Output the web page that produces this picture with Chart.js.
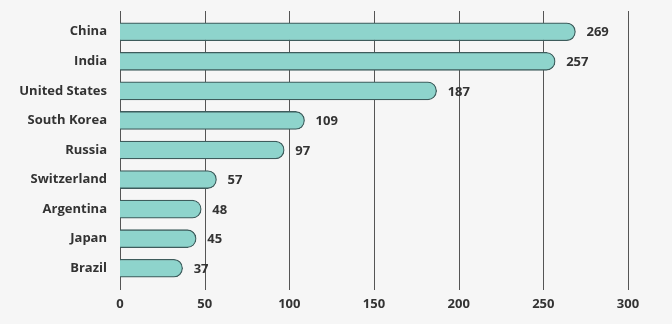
<!DOCTYPE html>
<html>
<head>
<meta charset="utf-8">
<script src="https://cdn.jsdelivr.net/npm/chart.js@4/dist/chart.umd.min.js"></script>
<style>
  html, body { margin: 0; padding: 0; background: #f6f6f6; }
  #wrap { width: 672px; height: 324px; position: relative; }
</style>
</head>
<body>
<div id="wrap"><canvas id="c" width="672" height="324"></canvas></div>
<script>
const categories = ["China", "India", "United States", "South Korea", "Russia", "Switzerland", "Argentina", "Japan", "Brazil"];
const values = [269, 257, 187, 109, 97, 57, 48, 45, 37];
const xTicks = [0, 50, 100, 150, 200, 250, 300];

const FONT = "'Open Sans', 'Noto Sans', sans-serif";
const TEXT = "#333333";

const gridPlugin = {
  id: 'customGrid',
  beforeDatasetsDraw(chart) {
    const { ctx, chartArea, scales } = chart;
    ctx.save();
    ctx.strokeStyle = '#555555';
    ctx.lineWidth = 1;
    xTicks.forEach(v => {
      const x = Math.round(scales.x.getPixelForValue(v)) + 0.5;
      ctx.beginPath();
      ctx.moveTo(x, chartArea.top - 6);
      ctx.lineTo(x, chartArea.bottom + 7);
      ctx.stroke();
    });
    ctx.restore();
  }
};

const labelPlugin = {
  id: 'valueLabels',
  afterDatasetsDraw(chart) {
    const { ctx } = chart;
    const meta = chart.getDatasetMeta(0);
    ctx.save();
    ctx.font = "bold 13px " + FONT;
    ctx.fillStyle = TEXT;
    ctx.textAlign = 'left';
    ctx.textBaseline = 'middle';
    meta.data.forEach((bar, i) => {
      ctx.fillText(String(values[i]), bar.x + 11, bar.y + 1);
    });
    ctx.restore();
  }
};

new Chart(document.getElementById('c'), {
  type: 'bar',
  data: {
    labels: categories,
    datasets: [{
      data: values,
      backgroundColor: '#8ed4cc',
      borderColor: '#3e5c5c',
      borderWidth: 1.3,
      borderSkipped: 'start',
      borderRadius: { topLeft: 0, bottomLeft: 0, topRight: 9, bottomRight: 9 },
      barThickness: 18
    }]
  },
  options: {
    indexAxis: 'y',
    responsive: false,
    animation: false,
    devicePixelRatio: 1,
    layout: { padding: { left: 0, right: 44, top: 17, bottom: 12 } },
    plugins: { legend: { display: false }, tooltip: { enabled: false } },
    scales: {
      x: {
        min: 0, max: 300,
        afterBuildTicks(scale) { scale.ticks = xTicks.map(v => ({ value: v })); },
        afterFit(scale) { scale.height = 29; scale.paddingLeft = 0; scale.paddingRight = 0; },
        grid: { display: false, drawTicks: false },
        border: { display: false },
        ticks: { padding: 13, color: TEXT, maxRotation: 0, font: { family: FONT, size: 13, weight: 'bold' } }
      },
      y: {
        afterFit(scale) { scale.width = 120; scale.paddingTop = 0; scale.paddingBottom = 0; },
        grid: { display: false, drawTicks: false },
        border: { display: false },
        ticks: { padding: 13, color: TEXT, font: { family: FONT, size: 13, weight: 'bold' } }
      }
    }
  },
  plugins: [gridPlugin, labelPlugin]
});
</script>
</body>
</html>
